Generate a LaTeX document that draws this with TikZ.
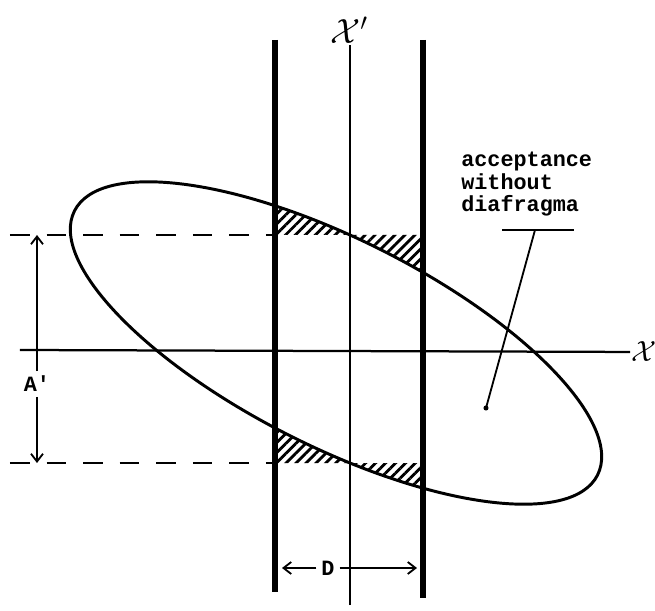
\documentclass[tikz,border=0pt]{standalone}
\usepackage{fontspec}
\newfontfamily\labelfont{Liberation Mono}
\usetikzlibrary{arrows.meta,patterns.meta}

\begin{document}
\begin{tikzpicture}[
  x=0.025cm, y=0.025cm,
  wall/.style={line width=3.6pt},
  axisline/.style={line width=1.6pt},
  guide/.style={line width=1.4pt, dash pattern=on 14pt off 12pt},
  dimarrow/.style={line width=1.3pt, -{Straight Barb[length=5.5pt, width=8.5pt]}},
  tt/.style={font=\labelfont\bfseries\fontsize{15.5}{16}\selectfont},
  axislabel/.style={font=\fontsize{22}{26}\selectfont, inner sep=1pt},
  hatch/.style={pattern={Lines[angle=45, distance=5pt, line width=2pt]}}
]
  \useasboundingbox (-350,-260) rectangle (305,350);

  % cut-off parts of the acceptance
  \begin{scope}
    \clip (-75,-300) rectangle (73,320);
    \fill[hatch, even odd rule] (-400,115) rectangle (400,-113)
      [rotate around={-26.8:(-14,7)}] (-14,7) ellipse (293 and 103.5);
  \end{scope}
  \draw[line width=2.1pt, rotate around={-26.8:(-14,7)}] (-14,7) ellipse (293 and 103.5);

  % axes
  \coordinate (xstart) at (-330,0);
  \node[axislabel, anchor=west] (xlab) at (280,-2) {$\mathcal{X}$};
  \draw[axisline] (xstart) -- (xlab);
  \node[axislabel, font=\fontsize{25}{28}\selectfont] (xplab) at (-1,320) {$\mathcal{X}'$};
  \coordinate (xpend) at (0,-255);
  \draw[axisline] (xpend) -- (xpend |- xplab.south);

  % slit walls
  \coordinate (lwtop) at (-75,310);
  \coordinate (lwbot) at (-75,-242);
  \coordinate (rwtop) at (73,310);
  \coordinate (rwbot) at (73,-248);
  \draw[wall] (lwtop) -- (lwbot);
  \draw[wall] (rwtop) -- (rwbot);

  % acceptance limits
  \coordinate (ulim) at (-340,115);
  \coordinate (llim) at (-340,-113);
  \draw[guide] (ulim) -- (ulim -| lwtop);
  \draw[guide] (llim) -- (llim -| lwtop);

  % dimensions
  \node[tt] (alab) at (-313,-34) {A'};
  \draw[dimarrow] (alab) -- (alab |- ulim);
  \draw[dimarrow] (alab) -- (alab |- llim);

  \node[tt] (dlab) at (-22,-218) {D};
  \coordinate (dleft) at (-68,-218);
  \coordinate (dright) at (67,-218);
  \draw[dimarrow] (dlab) -- (dleft);
  \draw[dimarrow] (dlab) -- (dright);

  % annotation
  \node[tt, align=left, anchor=north west, inner sep=0pt] (note) at (111,198) {acceptance\\without\\diafragma};
  \coordinate (ulstart) at (152,120);
  \coordinate (ulend) at (224,120);
  \draw[line width=1.4pt] (ulstart) -- (ulend);
  \coordinate (hook) at (185,120);
  \coordinate (tip) at (136,-58);
  \draw[line width=1.3pt] (hook) -- (tip);
  \fill (tip) circle (1.8pt);
\end{tikzpicture}
\end{document}
